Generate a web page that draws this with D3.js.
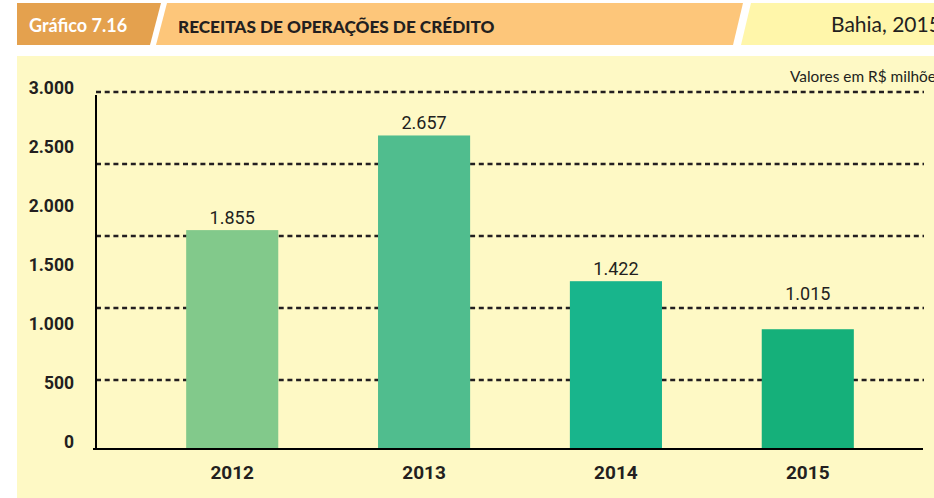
<!DOCTYPE html>
<html>
<head>
<meta charset="utf-8">
<script src="https://cdn.jsdelivr.net/npm/d3@7"></script>
<style>
  body { margin: 0; background: #fff; }
  svg { display: block; }
</style>
</head>
<body>
<script>

// data

const years = ["2012", "2013", "2014", "2015"];
const values = [1855, 2657, 1422, 1015];
const barColors = ["#82c98b", "#50bd8e", "#18b58c", "#15b07a"];
const tickValues = [0, 500, 1000, 1500, 2000, 2500, 3000];
const gridValues = [600, 1200, 1800, 2400, 3000];

const fmt = d3.formatLocale({ decimal: ",", thousands: ".", grouping: [3], currency: ["R$", ""] }).format(",d");

// dimensions

const dms = {
    width: 934,
    height: 498,
    plotLeft: 96,
    plotRight: 923,
    baseline: 449,
    top: 95
};

const chartFont = "Roboto, 'DejaVu Sans Condensed', sans-serif";
const headFont = "Lato, 'Open Sans', sans-serif";

const svg = d3.select("body")
              .append("svg")
                .attr("width", dms.width)
                .attr("height", dms.height);

// header bars

const header = svg.append("g");
header.append("polygon")
    .attr("points", "17,3 161,3 150,45 17,45")
    .attr("fill", "#e4a14e");
header.append("polygon")
    .attr("points", "167,3 743,3 733,45 156,45")
    .attr("fill", "#fdc67a");
header.append("polygon")
    .attr("points", "751,3 934,3 934,45 741,45")
    .attr("fill", "#fff6aa");

header.append("text")
    .attr("x", 29).attr("y", 32)
    .attr("font-family", headFont)
    .attr("font-weight", "bold")
    .attr("font-size", 18)
    .attr("fill", "#fff")
    .text("Gráfico 7.16");

header.append("text")
    .attr("x", 178).attr("y", 33)
    .attr("font-family", headFont)
    .attr("font-weight", 900)
    .attr("font-size", 17.2)
    .attr("fill", "#231f20")
    .text("RECEITAS DE OPERAÇÕES DE CRÉDITO");

header.append("text")
    .attr("x", 831).attr("y", 32)
    .attr("font-family", headFont)
    .attr("font-size", 21)
    .attr("fill", "#231f20")
    .text("Bahia, 2015");

// panel

svg.append("rect")
    .attr("x", 17).attr("y", 56)
    .attr("width", dms.width - 17)
    .attr("height", dms.height - 56)
    .attr("fill", "#fef9c5");

svg.append("text")
    .attr("x", 790).attr("y", 82)
    .attr("font-family", headFont)
    .attr("font-size", 15.4)
    .attr("fill", "#231f20")
    .text("Valores em R$ milhões");

// scales

const yScale = d3.scaleLinear()
                 .domain([0, 3000])
                 .range([dms.baseline, dms.top]);

const gridScale = d3.scaleLinear()
                    .domain([0, 3000])
                    .range([452, 92]);

const xScale = d3.scaleBand()
                 .domain(years)
                 .range([dms.plotLeft, 944])
                 .paddingInner(0.52)
                 .paddingOuter(0.47);

// grid

svg.append("g")
    .selectAll("line")
    .data(gridValues)
    .join("line")
      .attr("x1", dms.plotLeft)
      .attr("x2", dms.plotRight + 1)
      .attr("y1", d => gridScale(d))
      .attr("y2", d => gridScale(d))
      .attr("stroke", "#231f20")
      .attr("stroke-width", 2.4)
      .attr("stroke-dasharray", "5,3.7");

// y labels

svg.append("g")
    .selectAll("text")
    .data(tickValues)
    .join("text")
      .attr("x", 74)
      .attr("y", d => yScale(d) - 7)
      .attr("dy", "0.35em")
      .attr("text-anchor", "end")
      .attr("font-family", chartFont)
      .attr("font-weight", "bold")
      .attr("font-size", 17.5)
      .attr("fill", "#231f20")
      .text(d => fmt(d));

// bars

svg.append("g")
    .selectAll("rect")
    .data(values)
    .join("rect")
      .attr("x", (d, i) => xScale(years[i]))
      .attr("y", d => yScale(d))
      .attr("width", xScale.bandwidth())
      .attr("height", d => dms.baseline - yScale(d))
      .attr("fill", (d, i) => barColors[i]);

// axes lines

svg.append("line")
    .attr("x1", dms.plotLeft).attr("x2", dms.plotLeft)
    .attr("y1", dms.top).attr("y2", dms.baseline)
    .attr("stroke", "#000").attr("stroke-width", 2);

svg.append("line")
    .attr("x1", 93).attr("x2", dms.plotRight)
    .attr("y1", dms.baseline).attr("y2", dms.baseline)
    .attr("stroke", "#000").attr("stroke-width", 2);

// value labels: lifted above a gridline that sits just over the bar

const labelY = d => {
    const top = yScale(d);
    const near = gridValues.map(g => gridScale(g)).filter(g => g < top && top - g < 25);
    return near.length ? d3.min(near) - 8 : top - 6;
};

svg.append("g")
    .selectAll("text")
    .data(values)
    .join("text")
      .attr("x", (d, i) => xScale(years[i]) + xScale.bandwidth() / 2)
      .attr("y", labelY)
      .attr("text-anchor", "middle")
      .attr("font-family", chartFont)
      .attr("font-size", 18)
      .attr("fill", "#231f20")
      .text(d => fmt(d));

// year labels

svg.append("g")
    .selectAll("text")
    .data(years)
    .join("text")
      .attr("x", d => xScale(d) + xScale.bandwidth() / 2)
      .attr("y", 479)
      .attr("text-anchor", "middle")
      .attr("font-family", chartFont)
      .attr("font-weight", "bold")
      .attr("font-size", 19)
      .attr("fill", "#231f20")
      .text(d => d);

</script>
</body>
</html>
